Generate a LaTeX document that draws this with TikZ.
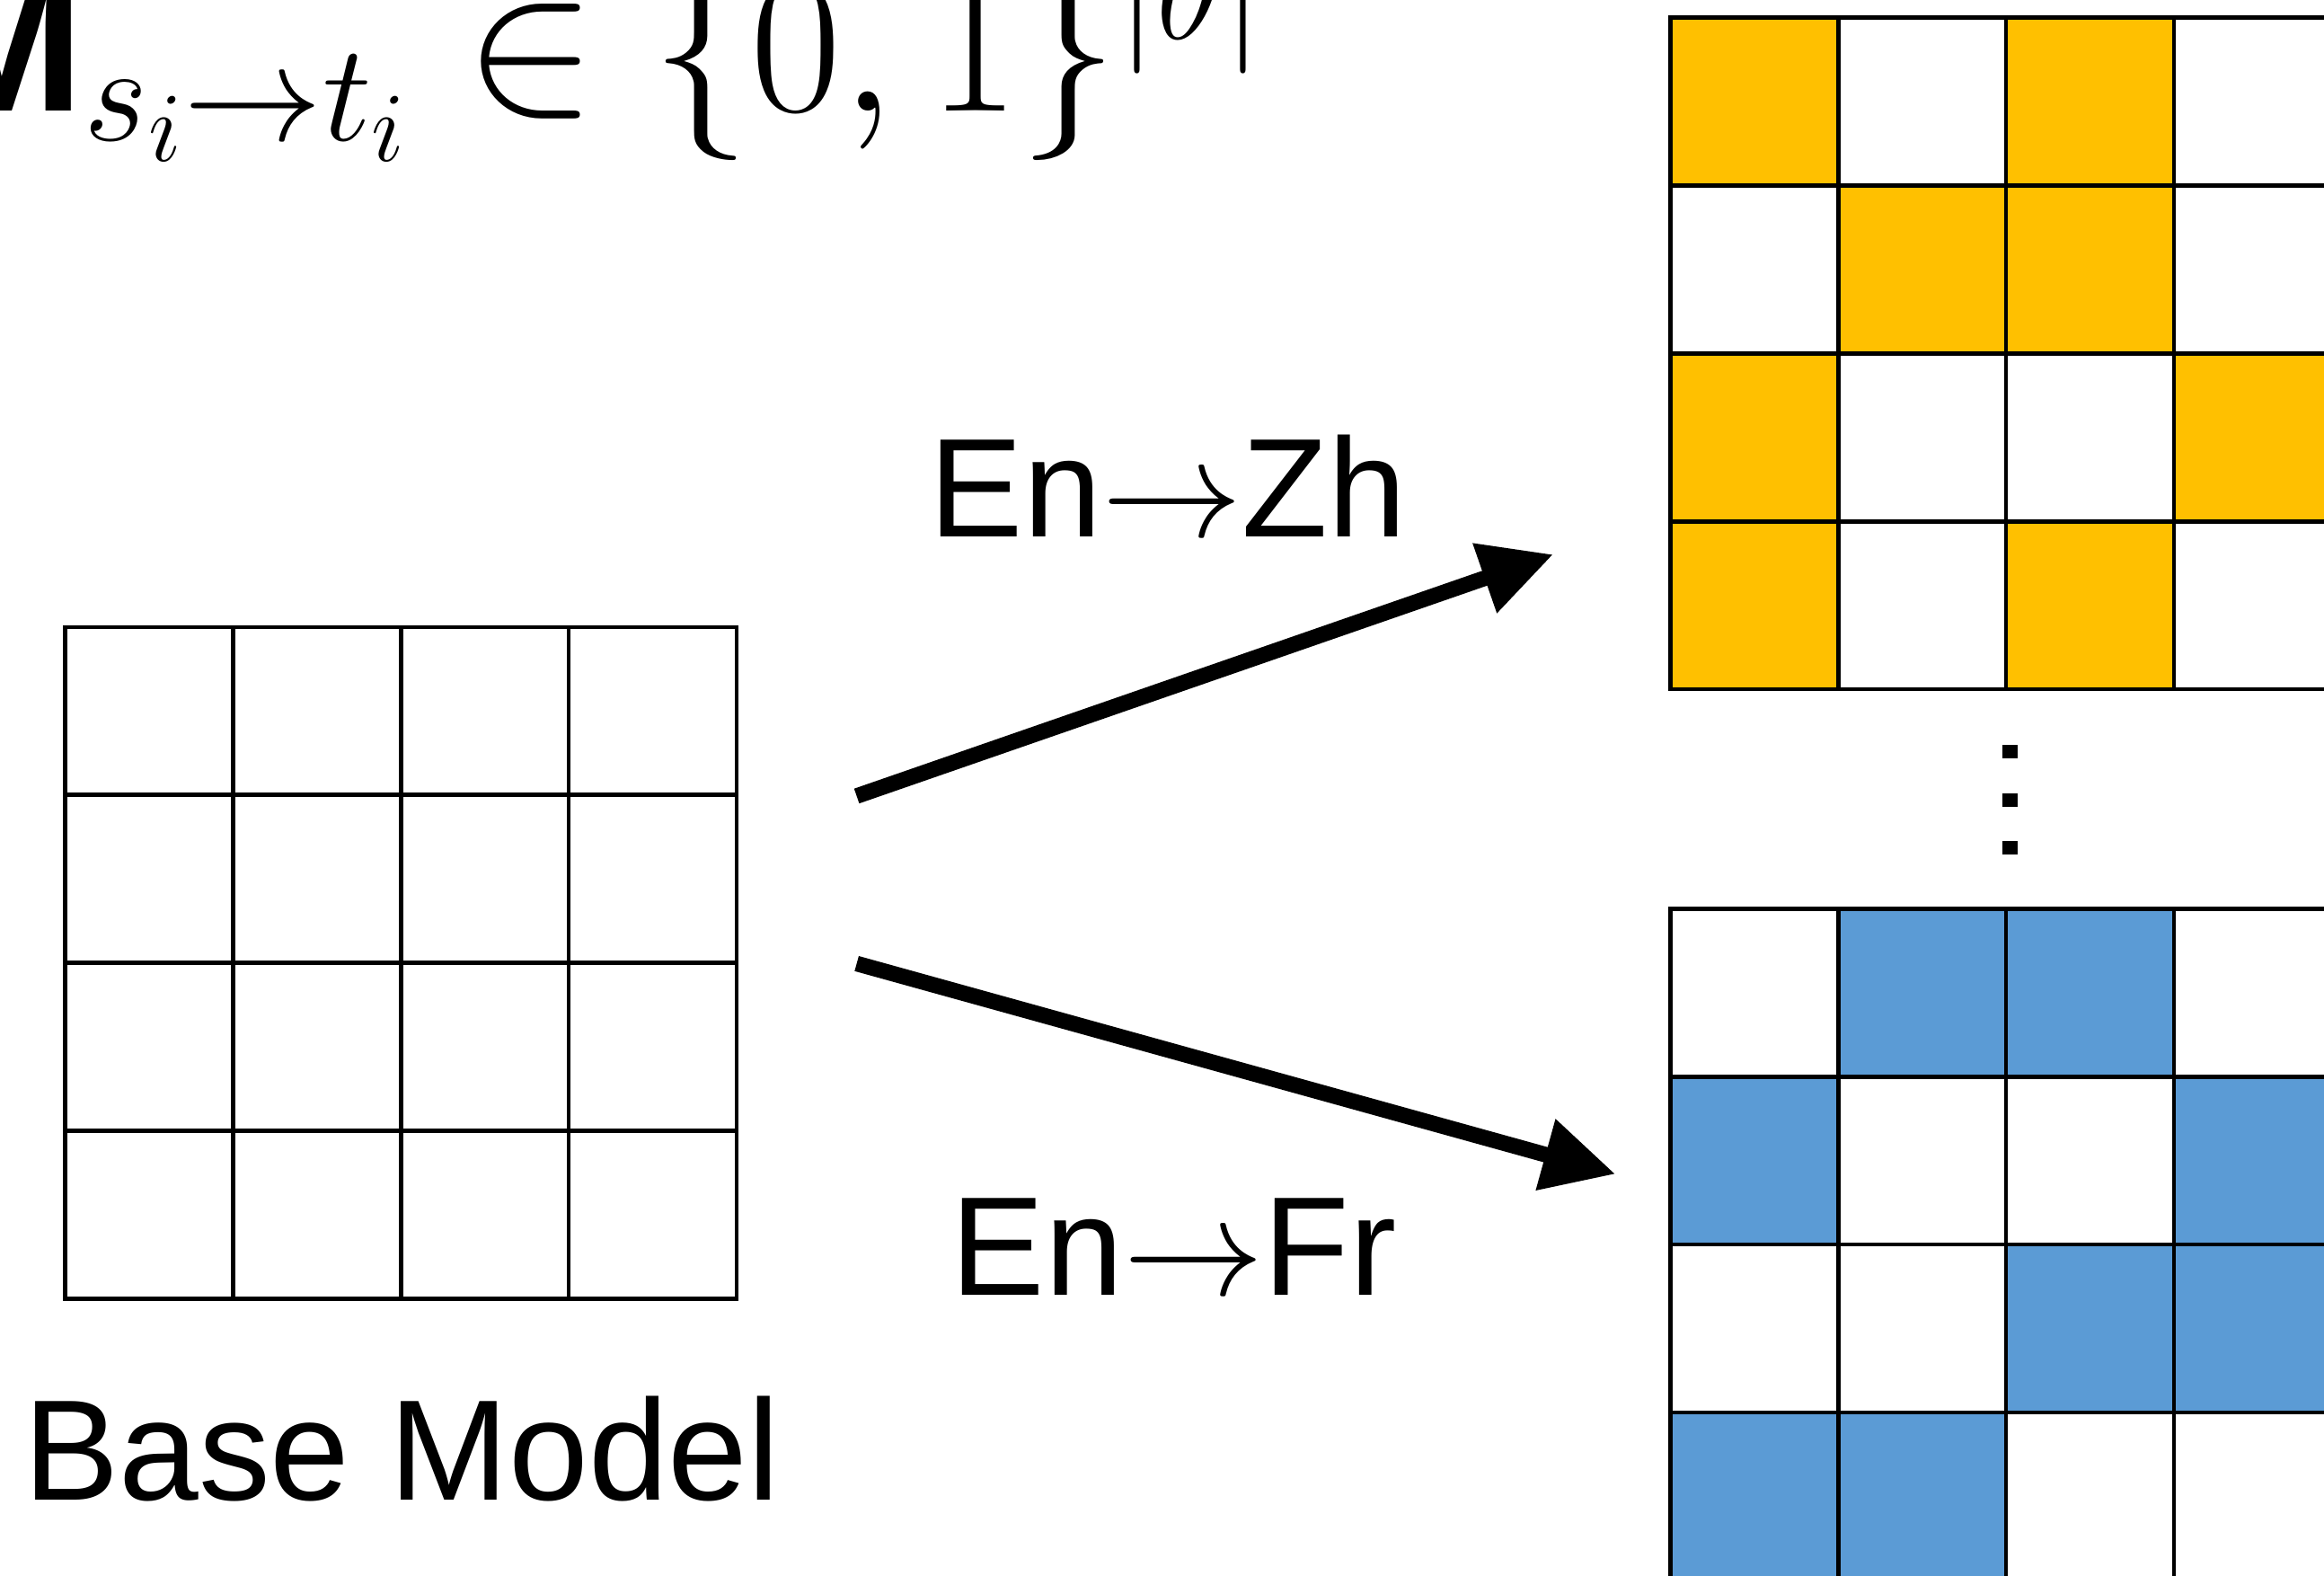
\RequirePackage{fix-cm}
\documentclass[tikz,border=0pt]{standalone}
\usepackage{fontspec}
\setmainfont{Liberation Sans}
\usetikzlibrary{arrows.meta}
\definecolor{maskA}{HTML}{FFC000}
\definecolor{maskB}{HTML}{5B9BD5}
\begin{document}
\begin{tikzpicture}[
  cell/.style={draw=black, line width=0.8pt},
  lbl/.style={anchor=base, font=\fontsize{27}{30}\selectfont},
  arr/.style={-{Triangle[length=4.9mm, width=4.7mm]}, line width=3pt},
  dot/.style={fill=black, minimum width=1mm, minimum height=0.9mm, inner sep=0pt}
]
  \useasboundingbox (0,0) rectangle (15.68,10.63);
  \def\s{1.1325}

  % Formel oben (abgeschnitten)
  \node[anchor=base west, inner sep=0pt, font=\fontsize{38}{42}\selectfont] (formula) at (-0.55, 9.88)
    {$\mathbf{M}_{s_i\rightarrow t_i}\in\{0,1\}^{|\theta|}$};

  % Basismodell
  \foreach \r in {0,1,2,3}
    \foreach \c in {0,1,2,3}
      \draw[cell, fill=white] (0.44+\c*\s, 6.40-\r*\s) rectangle ++(\s,-\s);
  \node[lbl, font=\fontsize{27.5}{30}\selectfont] (base) at (2.71, 0.51) {Base Model};

  % Maske En->Zh
  \foreach \row [count=\r from 0] in {{1,0,1,0},{0,1,1,0},{1,0,0,1},{1,0,1,0}}
    \foreach \v [count=\c from 0] in \row {
      \ifnum\v=1 \def\cc{maskA}\else\def\cc{white}\fi
      \draw[cell, fill=\cc] (11.27+\c*\s, 10.51-\r*\s) rectangle ++(\s,-\s);
    }

  % Maske En->Fr
  \foreach \row [count=\r from 0] in {{0,1,1,0},{1,0,0,1},{0,0,1,1},{1,1,0,0}}
    \foreach \v [count=\c from 0] in \row {
      \ifnum\v=1 \def\cc{maskB}\else\def\cc{white}\fi
      \draw[cell, fill=\cc] (11.27+\c*\s, 4.50-\r*\s) rectangle ++(\s,-\s);
    }

  % Punkte
  \node[dot] (d1) at (13.56, 5.56) {};
  \node[dot] (d2) at (13.56, 5.23) {};
  \node[dot] (d3) at (13.56, 4.91) {};

  % Pfeile
  \coordinate (zhS) at (5.78, 5.26);
  \coordinate (zhE) at (10.48, 6.89);
  \coordinate (frS) at (5.78, 4.13);
  \coordinate (frE) at (10.90, 2.71);
  \draw[arr] (zhS) -- (zhE);
  \draw[arr] (frS) -- (frE);
  \node[lbl] (zh) at (7.88, 7.01) {En$\rightarrow$Zh};
  \node[lbl] (fr) at (7.92, 1.89) {En$\rightarrow$Fr};
\end{tikzpicture}
\end{document}
